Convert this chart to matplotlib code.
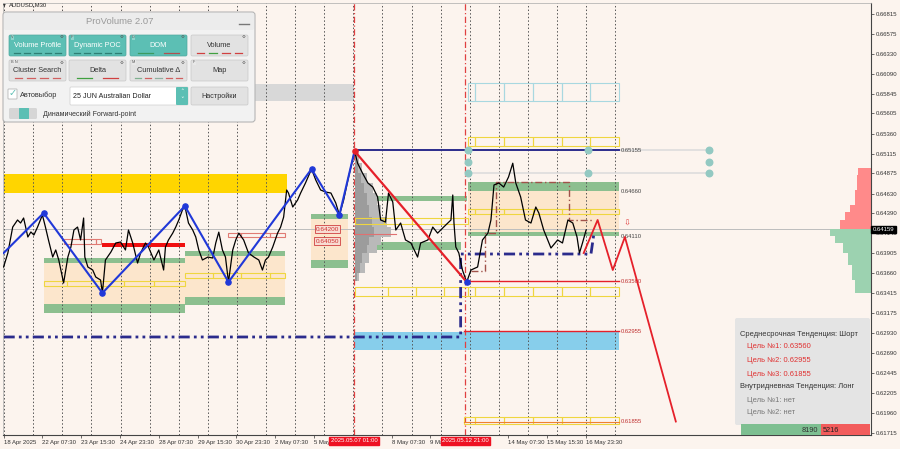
import matplotlib
matplotlib.use('Agg')
import matplotlib.pyplot as plt
from matplotlib.patches import Rectangle, FancyBboxPatch
from matplotlib.transforms import blended_transform_factory

plt.rcParams['font.family'] = ['Liberation Sans', 'DejaVu Sans']

BG = '#FCF4EE'
GREEN = '#8CBF8F'
PEACH = '#FCE6CC'
GOLD = '#FFD500'
YELLOW = '#EFD640'
NAVY = '#2B2B8C'
BLUE = '#2038D8'
RED = '#E5202A'
TEAL = '#5CBFB4'

# ---- data (x = M30 bar index, y = price) ----
price_bars = [0, 7, 15, 23, 28, 33, 40, 45, 50, 56, 64, 69, 74, 81, 86, 91, 99, 106, 111, 116,
              122, 127, 132, 134, 139, 147, 152, 160, 163, 168, 177, 185, 193, 201, 206, 213, 221,
              226, 234, 239, 248, 256, 264, 267, 272, 279, 284, 289, 295, 299, 305, 312, 317, 322,
              328, 337, 345, 350, 355, 361, 366, 371, 378, 383, 388, 396, 404, 413, 421, 427, 432,
              437, 444, 452, 457, 462, 467, 470, 477, 485, 490, 498, 508, 515, 523, 531, 540, 548,
              554, 561, 568, 573, 579, 584, 592, 601, 609, 617, 622, 630, 635, 642, 647, 655, 663,
              672, 683, 688, 700, 708, 716, 726, 738, 741, 743, 746, 751, 757, 764, 771, 782, 790,
              799, 804, 809, 817, 825, 833, 840, 845, 853, 861, 870, 878, 883, 891, 903, 914, 922,
              931, 939, 946, 950, 955, 961]
price_vals = [0.63736, 0.63906, 0.64222, 0.64308, 0.64271, 0.64332, 0.64101, 0.64162, 0.64125, 0.64222,
              0.64369, 0.64222, 0.64065, 0.63857, 0.63943, 0.63821, 0.63541, 0.63857, 0.63979, 0.64186,
              0.64222, 0.64065, 0.64332, 0.63857, 0.63736, 0.63699, 0.63614, 0.63577, 0.63419, 0.63821,
              0.63918, 0.64028, 0.64040, 0.63943, 0.64186, 0.64028, 0.63784, 0.63906, 0.64028, 0.63979,
              0.63821, 0.63943, 0.63699, 0.63979, 0.64065, 0.64148, 0.64222, 0.64308, 0.64429, 0.64478,
              0.64271, 0.64186, 0.64101, 0.63943, 0.63821, 0.63857, 0.63845, 0.64028, 0.64160, 0.63943,
              0.63857, 0.63553, 0.63943, 0.64065, 0.64148, 0.64065, 0.63906, 0.63857, 0.63821, 0.63699,
              0.63821, 0.63857, 0.63979, 0.64148, 0.64222, 0.64344, 0.64673, 0.64636, 0.64466, 0.64551,
              0.64636, 0.64758, 0.64928, 0.64794, 0.64673, 0.64649, 0.64636, 0.64515, 0.64369, 0.64551,
              0.64794, 0.64953, 0.65147, 0.64999, 0.64880, 0.64758, 0.64709, 0.64588, 0.64308, 0.64283,
              0.64636, 0.64527, 0.64186, 0.64271, 0.64065, 0.64028, 0.63857, 0.64028, 0.64065, 0.64222,
              0.64148, 0.64222, 0.64308, 0.64612, 0.64271, 0.63979, 0.63906, 0.63699, 0.63553, 0.63699,
              0.63736, 0.64065, 0.64148, 0.64308, 0.64734, 0.64758, 0.64709, 0.64831, 0.64999, 0.64758,
              0.64588, 0.64308, 0.64271, 0.64466, 0.64393, 0.64186, 0.63967, 0.64065, 0.64028, 0.64308,
              0.64271, 0.64101, 0.63906, 0.64028, 0.64186]

zigzag_bars = [0, 66, 163, 299, 371, 508, 554, 579]
zigzag_vals = [0.63906, 0.64393, 0.63419, 0.64478, 0.63553, 0.64928, 0.64369, 0.65147]
down_bars = [579, 764]
down_vals = [0.65147, 0.63553]
proj_bars = [957, 980, 1005, 1025, 1109]
proj_vals = [0.63906, 0.64308, 0.63699, 0.64101, 0.61855]
poc_bars = [771, 795, 795, 812, 812, 932, 932, 974]
poc_vals = [0.63687, 0.63687, 0.64150, 0.64150, 0.64770, 0.64770, 0.64308, 0.64308]
dashdot_bars = [0, 754, 754, 969, 974]
dashdot_vals = [0.62884, 0.62884, 0.63894, 0.63894, 0.64150]

current_price = 0.64159
current_line = 0.64195
level_prices = [0.65155, 0.64660, 0.64110, 0.63560, 0.62955, 0.61855]
level_labels = ['0.65155', '0.64660', '0.64110', '0.63560', '0.62955', '0.61855']

# zones: (bar_from, bar_to, price_low, price_high)
gold_zones = [(0, 467, 0.64636, 0.64867)]
gray_zones = [(0, 578, 0.65756, 0.65963)]
sky_zones = [(578, 1015, 0.62726, 0.62945)]
red_zones = [(163, 299, 0.63979, 0.64028)]
green_zones = [(66, 299, 0.63784, 0.63845), (66, 299, 0.63176, 0.63285),
               (299, 465, 0.63870, 0.63930), (299, 465, 0.63273, 0.63371),
               (507, 568, 0.64320, 0.64381), (507, 568, 0.63723, 0.63821),
               (585, 764, 0.64539, 0.64600), (580, 754, 0.63943, 0.64040),
               (766, 1015, 0.64661, 0.64770), (766, 1015, 0.64113, 0.64162)]
peach_zones = [(66, 299, 0.63285, 0.63784), (299, 465, 0.63371, 0.63870),
               (507, 568, 0.63821, 0.64320), (766, 1015, 0.64162, 0.64661)]

right_cuts = [766, 777, 825, 873, 921, 967, 1015]
yellow_rows = [([66, 104, 198, 248, 299], 0.63504, 0.63565),
               ([299, 345, 391, 439, 465], 0.63602, 0.63663),
               ([579, 627, 673, 721, 766], 0.64259, 0.64332),
               ([579, 634, 680, 726] + right_cuts, 0.63383, 0.63492),
               (right_cuts, 0.65208, 0.65318),
               (right_cuts, 0.64381, 0.64442),
               ([759] + right_cuts[1:], 0.61825, 0.61910)]
cyan_rows = [(right_cuts, 0.65756, 0.65975)]
pink_rows = [([99, 152, 160], 0.64016, 0.64076), ([371, 391, 439, 465], 0.64101, 0.64150)]

mid_labels = ['0.64200', '0.64050']
mid_label_prices = [0.64198, 0.64052]

# volume profile starting at 2025.05.07 01:00
vp_edges = [0.65123, 0.65001, 0.64880, 0.64758, 0.64636, 0.64490, 0.64344, 0.64222,
            0.64101, 0.64003, 0.63906, 0.63784, 0.63663, 0.63565]
vp_volume = [4, 7, 12, 18, 22, 26, 32, 36, 26, 22, 14, 10, 4]

# DOM histogram at right edge
dom_ask_edges = [0.64940, 0.64855, 0.64673, 0.64490, 0.64405, 0.64308, 0.64198]
dom_ask = [13, 14, 16, 21, 26, 31]
dom_bid_edges = [0.64198, 0.64113, 0.64028, 0.63906, 0.63760, 0.63577, 0.63419]
dom_bid = [41, 36, 28, 23, 19, 16]

yticks = [0.66815, 0.66575, 0.66330, 0.66090, 0.65845, 0.65605, 0.65360, 0.65115, 0.64875,
          0.64630, 0.64390, 0.64145, 0.63905, 0.63660, 0.63415, 0.63175, 0.62930, 0.62690,
          0.62445, 0.62205, 0.61960, 0.61715]
# labels at 6 May 23:30 and 12 May 23:30 sit under the red marker boxes
xtick_bars = [0, 64, 128, 192, 256, 320, 384, 448, 512, 640, 704, 832, 896, 960]
xtick_labels = ['18 Apr 2025', '22 Apr 07:30', '23 Apr 15:30', '24 Apr 23:30', '28 Apr 07:30',
                '29 Apr 15:30', '30 Apr 23:30', '2 May 07:30', '5 May 15:30',
                '8 May 07:30', '9 May 15:30', '14 May 07:30', '15 May 15:30',
                '16 May 23:30']
marker_bars = [578, 762]
marker_labels = ['2025.05.07 01:00', '2025.05.12 21:00']

XMIN, XMAX = -1, 1431
YMIN, YMAX = 0.61691, 0.66949
PX = 1.65  # bars per screen pixel

fig = plt.figure(figsize=(9, 4.49), dpi=100, facecolor=BG)
ax = fig.add_axes([3 / 900, 14 / 449, 868 / 900, 432 / 449])
ax.set_facecolor(BG)
ax.set_xlim(XMIN, XMAX)
ax.set_ylim(YMIN, YMAX)


def zone(b0, b1, p0, p1, fc, z=1.0, ec='none', lw=0.0, alpha=1.0):
    ax.add_patch(Rectangle((b0, p0), b1 - b0, p1 - p0, fc=fc, ec=ec, lw=lw, zorder=z, alpha=alpha))


def box_row(cuts, p0, p1, color, z=1.6):
    for a, b in zip(cuts[:-1], cuts[1:]):
        zone(a, b, p0, p1, 'none', z=z, ec=color, lw=0.8)


for z in gray_zones:
    zone(*z, '#D8D8D8', z=0.5)
for z in gold_zones:
    zone(*z, GOLD, z=0.6)
for z in sky_zones:
    zone(*z, '#87CEEB', z=0.6)
for z in peach_zones:
    zone(*z, PEACH, z=0.6)
for z in green_zones:
    zone(*z, GREEN, z=0.8)
for z in red_zones:
    zone(*z, '#F01010', z=0.9)
for cuts, p0, p1 in yellow_rows:
    box_row(cuts, p0, p1, YELLOW)
for cuts, p0, p1 in cyan_rows:
    box_row(cuts, p0, p1, '#A8D8E0')
for cuts, p0, p1 in pink_rows:
    box_row(cuts, p0, p1, '#E07B74')

# day separators
for b in range(1, 1010, 48):
    ax.axvline(b, color='#555555', lw=0.7, ls=(0, (1.5, 2.2)), zorder=1.2)
for b in marker_bars:
    ax.axvline(b, color='#E04040', lw=0.9, ls=(0, (5, 2, 1, 2)), zorder=1.3)

ax.axhline(current_line, color='#BDBDBD', lw=0.7, zorder=1.1)

# volume profile
for i, v in enumerate(vp_volume):
    lo, hi = vp_edges[i + 1], vp_edges[i]
    zone(579, 579 + v * PX, lo, hi, '#B9B9B9', z=1.4)
    zone(579, 579 + v * PX * 0.55, lo, hi, '#9C9C9C', z=1.45)
ax.plot([579, 647], [0.64137, 0.64137], color='#E07070', lw=0.8, zorder=1.5)

# DOM
for i, v in enumerate(dom_ask):
    zone(XMAX - v * PX, XMAX, dom_ask_edges[i + 1], dom_ask_edges[i], '#FF8A8A', z=1.4)
for i, v in enumerate(dom_bid):
    zone(XMAX - v * PX, XMAX, dom_bid_edges[i + 1], dom_bid_edges[i], '#9CD2B0', z=1.4)

# levels
ax.plot([579, 1015], [level_prices[0]] * 2, color=NAVY, lw=1.4, zorder=2)
ax.plot([1015, 1163], [level_prices[0]] * 2, color='#DDDDDD', lw=1.2, zorder=1.7)
ax.plot([766, 1163], [0.64880] * 2, color='#DDDDDD', lw=1.2, zorder=1.7)
ax.scatter([766, 766, 766, 964, 964, 1163, 1163, 1163],
           [0.65155, 0.65018, 0.64880, 0.65155, 0.64880, 0.65155, 0.65018, 0.64880],
           s=22, color='#93C9C2', zorder=2.2)
ax.plot([764, 1015], [0.63560] * 2, color=RED, lw=1.0, zorder=2)
ax.plot([759, 1015], [0.62955] * 2, color=RED, lw=1.0, zorder=2)
ax.plot([759, 1015], [0.61855] * 2, color='#F08030', lw=0.8, zorder=2)
for lab, p in zip(level_labels, level_prices):
    ax.text(1018, p, lab, fontsize=4.2, va='center', ha='left',
            color='#C03030' if p < 0.637 else '#444444', zorder=3)
ax.text(1022, 0.64271, '⇩', fontsize=6, color='#E04040', va='center', ha='left',
        family='DejaVu Sans', zorder=3)

for lab, p in zip(mid_labels, mid_label_prices):
    ax.text(534, p, lab, fontsize=4.6, color='#D03030', ha='center', va='center', zorder=3,
            bbox=dict(fc='#F8DCD2', ec='#D04040', lw=0.6, pad=0.8))

# lines
ax.plot(dashdot_bars, dashdot_vals, color=NAVY, lw=2.0, ls=(0, (4, 1.5, 1, 1.5, 1, 1.5)), zorder=2.4)
ax.plot(poc_bars, poc_vals, color='#A0524A', lw=1.0, ls=(0, (5, 2, 1, 2)), zorder=2.4)
ax.plot(price_bars, price_vals, color='black', lw=0.9, zorder=3)
ax.plot(zigzag_bars, zigzag_vals, color=BLUE, lw=1.5, zorder=3.5)
ax.scatter(zigzag_bars[1:-1], zigzag_vals[1:-1], s=14, color=BLUE, zorder=3.6)
ax.plot(down_bars, down_vals, color=RED, lw=1.6, zorder=3.5)
ax.scatter([579], [0.65147], s=14, color=RED, zorder=3.6)
ax.scatter([764], [0.63553], s=14, color=BLUE, zorder=3.6)
ax.plot(proj_bars, proj_vals, color=RED, lw=1.3, zorder=3.5)

# axes
for s in ['top', 'left']:
    ax.spines[s].set_color('#AAAAAA')
    ax.spines[s].set_linewidth(0.5)
for s in ['right', 'bottom']:
    ax.spines[s].set_color('#444444')
    ax.spines[s].set_linewidth(0.8)
ax.yaxis.tick_right()
ax.set_yticks(yticks)
ax.set_yticklabels(['%.5f' % v for v in yticks])
ax.set_xticks(xtick_bars)
ax.set_xticklabels(xtick_labels, ha='left')
ax.tick_params(axis='both', labelsize=4.3, length=2, width=0.5, pad=1.5, colors='#333333')

tr_y = blended_transform_factory(ax.transAxes, ax.transData)
ax.text(1.002, current_line, '%.5f' % current_price, transform=tr_y, color='white', fontsize=4.3,
        va='center', ha='left', clip_on=False, zorder=20,
        bbox=dict(fc='black', ec='black', pad=0.9))
tr_x = blended_transform_factory(ax.transData, ax.transAxes)
for b, lab in zip(marker_bars, marker_labels):
    ax.text(b, -0.008, lab, transform=tr_x, color='white', fontsize=4.3, ha='center', va='top',
            clip_on=False, zorder=20, bbox=dict(fc='#EE1122', ec='#EE1122', pad=0.9))

# ---- overlay in screen pixels: panel, info box ----
ov = fig.add_axes([0, 0, 1, 1], zorder=10)
ov.set_xlim(0, 900)
ov.set_ylim(449, 0)
ov.axis('off')
ov.patch.set_alpha(0)


def pbox(x0, y0, x1, y1, fc, ec='none', r=2.0, lw=0.6, z=1):
    ov.add_patch(FancyBboxPatch((x0, y0), x1 - x0, y1 - y0,
                                boxstyle='round,pad=0,rounding_size=%s' % r,
                                fc=fc, ec=ec, lw=lw, zorder=z))


ov.text(3, 5, '▾', fontsize=4, va='center', ha='left', color='#333333', family='DejaVu Sans')
ov.text(9, 5, 'AUDUSD,M30', fontsize=4.2, va='center', ha='left', color='#222222')

pbox(3, 12, 255, 122, '#F2F2F2', ec='#B5B5B5', r=3, lw=0.8)
pbox(4, 13, 254, 30, '#ECECEC', r=2)
ov.text(120, 21.5, 'ProVolume 2.07', fontsize=6.8, color='#9A9A9A', ha='center', va='center')
ov.plot([239, 249], [24, 24], color='#777777', lw=1.0, zorder=3)

buttons = ['Volume Profile', 'Dynamic POC', 'DOM', 'Volume',
           'Cluster Search', 'Delta', 'Cumulative Δ', 'Map']
active = [True, True, True, False, False, False, False, False]
tags = ['V', 'P', 'D', '', 'B N', '', 'M', 'F']
marks = [['#2E7F74'] * 5, ['#2E7F74'] * 5, ['#3C9A60', '#B05050'], ['#D04040', '#40A040', '#D04040', '#D04040'],
         ['#D06060'] * 4, ['#40A040', '#D04040'], ['#7FB08F', '#D06060', '#90B0A0', '#D06060', '#D06060'], []]
cols = [(9, 66), (69, 126), (130, 187), (191, 248)]
rows = [(35, 56), (60, 81)]
for i, lab in enumerate(buttons):
    x0, x1 = cols[i % 4]
    y0, y1 = rows[i // 4]
    on = active[i]
    pbox(x0, y0, x1, y1, TEAL if on else '#E2E2E2', ec='#4FA89E' if on else '#C8C8C8', r=1.5, lw=0.5, z=2)
    ov.text((x0 + x1) / 2, y0 + 10.5, lab, fontsize=5.3, ha='center', va='center',
            color='white' if on else '#333333', zorder=4)
    if tags[i]:
        ov.text(x0 + 2, y0 + 2.3, tags[i], fontsize=2.8, ha='left', va='center', color='#555555', zorder=4,
                bbox=dict(fc='#E8E8E8' if not on else '#8ED3CB', ec='none', pad=0.3))
    ov.text(x1 - 4, y0 + 2.5, '⚙', fontsize=3.2, ha='center', va='center', color='#555555',
            family='DejaVu Sans', zorder=4)
    n = len(marks[i])
    for k, c in enumerate(marks[i]):
        w = (x1 - x0 - 6) / max(n, 1)
        cx = x0 + 3 + w * (k + 0.5)
        ov.plot([cx - w * 0.3, cx + w * 0.3], [y1 - 3.5, y1 - 3.5], color=c, lw=0.9, zorder=4)

pbox(8, 89, 17, 99, 'white', ec='#AAAAAA', r=0.5, lw=0.5, z=2)
ov.text(12.5, 93, '✓', fontsize=7, color=TEAL, ha='center', va='center', family='DejaVu Sans', zorder=4)
ov.text(20, 95, 'Автовыбор', fontsize=5.3, color='#333333', ha='left', va='center')
pbox(70, 87, 188, 105, 'white', ec='#CFCFCF', r=1, lw=0.5, z=2)
pbox(176, 87, 188, 105, TEAL, r=1, z=3)
ov.text(182, 92.5, '˄', fontsize=5, color='white', ha='center', va='center', family='DejaVu Sans', zorder=4)
ov.text(182, 100, '˅', fontsize=5, color='white', ha='center', va='center', family='DejaVu Sans', zorder=4)
ov.text(73, 96, '25 JUN Australian Dollar', fontsize=5.1, color='#222222', ha='left', va='center', zorder=4)
pbox(191, 87, 248, 105, '#E2E2E2', ec='#C8C8C8', r=1.5, lw=0.5, z=2)
ov.text(219.5, 96, 'Настройки', fontsize=5.2, color='#333333', ha='center', va='center', zorder=4)
pbox(9, 108, 37, 119, '#D6D6D6', r=1.5, z=2)
pbox(19, 108, 29, 119, TEAL, r=0.5, z=3)
ov.text(43, 114, 'Динамический Forward-point', fontsize=5.0, color='#333333', ha='left', va='center')

# info box
pbox(735, 318, 870, 425, '#E4E4E4', r=2, z=1)
info_lines = ['Среднесрочная Тенденция: Шорт', 'Цель №1: 0.63560', 'Цель №2: 0.62955', 'Цель №3: 0.61855',
              'Внутридневная Тенденция: Лонг', 'Цель №1: нет', 'Цель №2: нет']
info_colors = ['#333333', '#E03030', '#E03030', '#E03030', '#333333', '#777777', '#777777']
info_x = [740, 747, 747, 747, 740, 747, 747]
info_y = [334, 347, 360, 374, 387, 400, 413]
for t, c, x, y in zip(info_lines, info_colors, info_x, info_y):
    ov.text(x, y, t, fontsize=5.4, color=c, ha='left', va='center', zorder=3)

buy_volume, sell_volume = 8190, 5216
ov.add_patch(Rectangle((741, 424), 80, 11, fc='#7DBF91', ec='none', zorder=2))
ov.add_patch(Rectangle((821, 424), 49, 11, fc='#F25C5C', ec='none', zorder=2))
ov.text(818, 430, str(buy_volume), fontsize=5.3, color='#333333', ha='right', va='center', zorder=3)
ov.text(823, 430, str(sell_volume), fontsize=5.3, color='#222222', ha='left', va='center', zorder=3)

fig.savefig('out.png', dpi=100, facecolor=BG)
